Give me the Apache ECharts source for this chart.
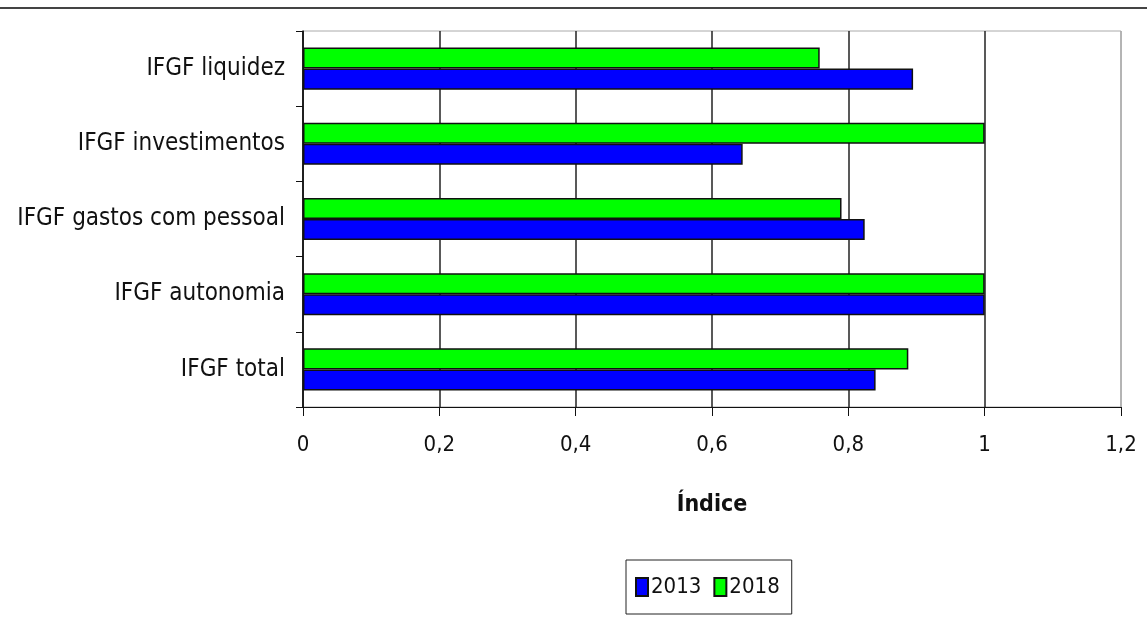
<!DOCTYPE html>
<html>
<head>
<meta charset="utf-8">
<script src="https://cdn.jsdelivr.net/npm/echarts@6/dist/echarts.min.js"></script>
<style>
  html, body { margin: 0; padding: 0; background: #fff; }
  #myCharts { width: 1147px; height: 619px; }
</style>
</head>
<body>
<div id="myCharts"></div>
<script>
// categorias, de baixo para cima
var categories = ['IFGF total', 'IFGF autonomia', 'IFGF gastos com pessoal', 'IFGF investimentos', 'IFGF liquidez']
var values2013 = [0.84, 1.0, 0.824, 0.645, 0.895]
var values2018 = [0.888, 1.0, 0.79, 1.0, 0.758]
var seriesNames = ['2013', '2018']

var font = "'DejaVu Sans Condensed', 'Liberation Sans Narrow', Arial, sans-serif"

var myCharts = echarts.init(document.getElementById('myCharts'))

var option = {
  animation: false,
  backgroundColor: '#fff',
  textStyle: { fontFamily: font },
  graphic: [
    {
      type: 'line',
      shape: { x1: 0, y1: 8, x2: 1147, y2: 8 },
      style: { stroke: '#444', lineWidth: 2 }
    }
  ],
  grid: {
    left: 303,
    right: 26,
    top: 31,
    bottom: 212,
    show: true,
    borderColor: '#aaa',
    borderWidth: 1
  },
  legend: {
    data: seriesNames,
    top: 560,
    left: 626,
    icon: 'rect',
    itemWidth: 12,
    itemHeight: 18,
    itemGap: 12,
    padding: [16, 12, 16, 9],
    borderColor: '#222',
    borderWidth: 1,
    textStyle: { fontSize: 22, color: '#111', fontFamily: font, padding: [0, 0, 0, -2] }
  },
  xAxis: {
    type: 'value',
    min: 0,
    max: 1.2,
    interval: 0.2,
    name: 'Índice',
    nameLocation: 'middle',
    nameGap: 87,
    nameTextStyle: { fontSize: 23, fontWeight: 'bold', color: '#111', fontFamily: font },
    axisLine: { show: true, lineStyle: { color: '#111', width: 1 } },
    axisTick: { show: true, length: 9, lineStyle: { color: '#111' } },
    axisLabel: {
      fontSize: 22,
      color: '#111',
      margin: 27,
      formatter: function (v) { return String(Math.round(v * 10) / 10).replace('.', ',') }
    },
    splitLine: {
      show: true,
      lineStyle: { color: ['#222', '#222', '#222', '#222', '#222', '#222', '#aaa'], width: 1.5 }
    }
  },
  yAxis: {
    type: 'category',
    data: categories,
    axisLine: { show: true, lineStyle: { color: '#111', width: 1.5 } },
    axisTick: { show: true, length: 7, lineStyle: { color: '#111' } },
    axisLabel: { fontSize: 24, color: '#111', margin: 18 },
    splitLine: { show: false }
  },
  // 2018 primeiro para ficar em cima da barra de 2013
  series: [
    {
      name: '2018',
      type: 'bar',
      data: values2018,
      barGap: '0%',
      barCategoryGap: '44%',
      itemStyle: { color: '#00ff00', borderColor: '#111', borderWidth: 1.5 }
    },
    {
      name: '2013',
      type: 'bar',
      data: values2013,
      barGap: '0%',
      barCategoryGap: '44%',
      itemStyle: { color: '#0000ff', borderColor: '#111', borderWidth: 1.5 }
    }
  ]
}

myCharts.setOption(option)
</script>
</body>
</html>
